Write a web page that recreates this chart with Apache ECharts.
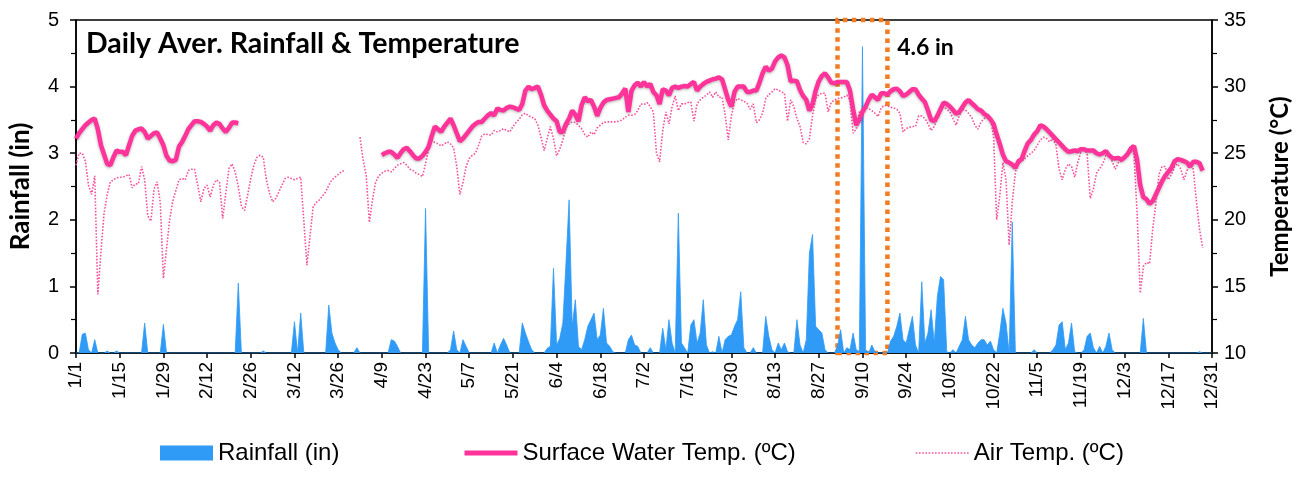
<!DOCTYPE html>
<html>
<head>
<meta charset="utf-8">
<script src="https://cdn.jsdelivr.net/npm/echarts@6/dist/echarts.min.js"></script>
<style>
  html, body { margin: 0; padding: 0; background: #fff; }
  #chart { width: 1300px; height: 487px; }
</style>
</head>
<body>
<div id="chart"></div>
<script>
// Day-of-year categories (non-leap year), labelled m/d
const monthDays = [31, 28, 31, 30, 31, 30, 31, 31, 30, 31, 30, 31];
const dates = [];
monthDays.forEach((n, m) => { for (let d = 1; d <= n; d++) dates.push((m + 1) + '/' + d); });

// Daily average rainfall (in)
const rainfall = [
  0,0,0.28,0.3,0.05,0,0.2,0,0,0,
  0.03,0,0,0.03,0,0,0,0,0,0,
  0,0,0.45,0,0,0,0,0,0.43,0,
  0,0,0,0,0,0,0,0,0,0,
  0,0,0,0,0,0,0,0,0,0,
  0,0,1.05,0,0,0,0,0,0,0,
  0.03,0,0,0,0,0,0,0,0,0,
  0.47,0,0.6,0,0,0,0,0,0,0,
  0,0.72,0.3,0.15,0.05,0,0,0,0,0,
  0.08,0,0,0,0,0,0,0,0,0,
  0,0.2,0.18,0.1,0,0,0,0,0,0,
  0,0,2.17,0,0,0,0,0,0,0,
  0.05,0.33,0.05,0,0.2,0.1,0,0,0,0,
  0,0,0,0,0.15,0,0.12,0.22,0.12,0,
  0,0,0,0.45,0.3,0.17,0.05,0,0,0,
  0,0.07,0.1,1.27,0.12,0.22,0.45,1.35,2.3,0.4,
  0.8,0.1,0.05,0.2,0.4,0.5,0.6,0.2,0.27,0.67,
  0.15,0.1,0.02,0,0,0,0,0.2,0.27,0.12,
  0.1,0,0,0,0.08,0,0,0,0.37,0.05,
  0.5,0.15,0,2.1,0.15,0.08,0,0.42,0.5,0.15,
  0.3,0.8,0.12,0,0.02,0,0.25,0,0.2,0.25,
  0.27,0.4,0.5,0.92,0.08,0,0,0.08,0,0,
  0,0.55,0.25,0.05,0,0.15,0.05,0.15,0.02,0,
  0,0.5,0.12,0,0.2,1.5,1.78,0.4,0.35,0.3,
  0.05,0,0,0,0.1,0.35,0,0.08,0.05,0.3,
  0.05,0.02,4.6,0.05,0,0.12,0.02,0,0,0,
  0,0.18,0.25,0.4,0.6,0.2,0.15,0.35,0.55,0.12,
  0,1.07,0.15,0.3,0.65,0.15,0.85,1.15,1.1,0.02,
  0,0.05,0,0.1,0.2,0.55,0.2,0.12,0.08,0.15,
  0.2,0.2,0.12,0.18,0.05,0,0.3,0.67,0.45,0,
  1.97,0,0,0,0,0,0,0.05,0,0,
  0,0,0,0.05,0.12,0.42,0.47,0.05,0.15,0.45,
  0.02,0,0,0.05,0.25,0.3,0.08,0,0.1,0,
  0.1,0.3,0.05,0,0,0,0,0,0,0,
  0,0,0.52,0,0,0,0,0,0,0,
  0,0,0,0,0,0,0,0,0,0,
  0.02,0,0,0,0
];

// Daily average surface water temperature (°C); null = no record
const waterTemp = [
  26.1,26.5,26.8,27.1,27.3,27.5,27.6,26.8,25.6,24.9,
  24.2,24.1,24.7,25.2,25.1,25.1,24.85,25.6,26.3,26.7,
  26.8,26.85,26.6,26.1,26.3,26.5,26.55,26.1,25.6,24.8,
  24.45,24.4,24.5,25.5,25.85,26.3,26.8,27.1,27.4,27.4,
  27.35,27.2,27.0,26.7,27.1,27.3,27.2,26.85,26.6,26.9,
  27.3,27.3,27.25,null,null,null,null,null,null,null,
  null,null,null,null,null,null,null,null,null,null,
  null,null,null,null,null,null,null,null,null,null,
  null,null,null,null,null,null,null,null,null,null,
  null,null,null,null,null,null,null,null,24.85,25.0,
  25.1,25.1,24.9,24.65,25.0,25.3,25.4,25.15,24.85,24.6,
  24.6,24.8,25.1,25.5,26.3,27.0,26.8,26.6,27.0,27.3,
  27.6,27.1,26.5,25.9,26.1,26.4,26.7,27.0,27.2,27.35,
  27.35,27.6,27.85,28.0,27.85,28.35,28.25,28.2,28.4,28.5,
  28.45,28.35,28.25,28.7,29.7,30.0,29.8,29.9,30.0,29.4,
  28.6,28.2,27.9,27.6,27.4,26.6,26.6,27.2,27.6,28.2,
  27.9,27.4,28.6,29.2,28.9,29.0,28.5,27.8,28.4,28.8,
  29.0,29.05,29.1,29.15,29.2,29.5,29.85,28.1,29.7,30.1,
  30.3,30.0,30.35,30.0,30.2,29.6,29.35,28.7,29.8,29.7,
  29.35,29.9,30.0,29.9,30.0,30.05,30.0,30.2,30.35,29.7,
  30.0,30.2,30.35,30.45,30.55,30.6,30.7,30.55,29.8,29.0,
  28.5,29.6,30.0,30.0,30.0,29.6,29.6,29.7,29.7,30.3,
  31.0,31.5,31.2,31.35,31.9,32.2,32.35,32.2,31.6,30.4,
  30.45,30.4,29.75,29.3,29.0,28.2,28.7,29.7,30.4,30.8,
  31.0,30.7,30.3,30.25,30.35,30.35,30.35,30.35,29.7,28.3,
  27.1,27.5,28.1,28.5,29.0,29.4,29.2,29.0,29.5,29.5,
  29.4,29.65,29.8,29.85,29.65,29.3,29.4,29.6,29.8,29.8,
  29.4,29.1,28.85,28.2,27.5,27.4,27.8,28.3,28.8,28.7,
  28.5,28.25,27.95,28.1,28.45,28.8,29.0,28.75,28.55,28.3,
  28.2,27.95,27.8,27.55,27.2,26.4,25.7,24.9,24.4,24.3,
  24.15,23.9,24.4,24.55,25.2,25.75,26.0,26.4,26.65,27.1,
  27.0,26.8,26.55,26.3,26.05,25.8,25.55,25.3,25.1,25.15,
  25.2,25.15,25.3,25.3,25.2,25.2,25.2,25.0,24.9,25.0,
  25.15,24.85,24.65,24.6,24.65,24.5,24.7,24.95,25.35,25.55,
  24.5,22.6,21.7,21.55,21.2,21.4,21.9,22.4,22.9,23.3,
  23.6,23.9,24.4,24.55,24.5,24.4,24.3,24.0,24.35,24.35,
  24.25,23.7,null,null,null
];

// Daily average air temperature (°C); null = no record
const airTemp = [
  24.1,25.0,25.0,24.4,22.6,21.9,23.3,14.4,17.6,20.5,
  21.9,22.85,23.0,23.15,23.2,23.2,23.3,23.4,22.4,22.7,
  22.7,24.0,23.0,20.3,19.9,22.3,22.85,21.3,15.6,17.8,
  20.0,21.4,22.2,23.0,23.1,23.0,23.7,23.8,23.8,22.6,
  21.35,22.35,22.6,21.7,22.6,23.0,22.8,20.1,22.0,23.85,
  24.2,23.6,22.5,21.0,20.7,21.85,23.1,24.1,24.7,24.85,
  24.7,23.0,22.0,21.35,21.6,22.1,22.6,23.1,23.2,23.1,
  23.0,23.1,23.2,19.9,16.6,18.8,21.0,21.3,21.5,21.8,
  22.1,22.6,23.0,23.2,23.4,23.6,23.7,null,null,null,
  null,26.2,24.5,23.3,19.8,21.5,22.8,23.3,23.5,23.65,
  23.7,23.6,23.85,24.1,24.2,24.3,24.1,23.8,23.7,23.5,
  23.4,23.25,24.2,25.3,25.95,25.8,25.7,25.55,25.7,25.85,
  25.7,25.4,24.0,21.9,22.8,24.0,24.6,24.85,25.0,25.6,
  26.3,26.45,26.4,26.35,26.7,26.6,26.7,26.85,26.7,26.6,
  27.0,27.3,27.55,27.9,28.0,27.8,27.7,27.6,27.1,26.2,
  25.2,26.1,27.0,26.1,24.8,25.3,26.0,26.9,27.2,27.35,
  27.3,27.1,26.85,26.4,26.2,26.6,26.4,26.9,27.1,27.3,
  27.35,27.35,27.35,27.35,27.4,27.5,27.7,27.85,27.85,27.9,
  28.2,28.7,28.65,28.8,28.5,28.1,25.0,24.35,26.7,28.1,
  27.2,28.5,29.3,28.2,28.7,28.7,28.8,28.85,27.4,28.7,
  29.0,29.2,29.35,29.6,29.2,29.6,29.2,29.2,27.9,26.0,
  27.8,28.85,29.1,29.0,28.9,28.75,28.3,28.7,27.3,27.5,
  28.0,29.1,29.4,29.6,29.85,29.75,29.6,29.5,27.4,29.0,
  28.5,27.6,27.0,25.8,25.7,26.1,27.8,29.1,29.4,29.5,
  29.5,28.1,28.8,29.0,29.1,29.15,29.2,29.35,29.0,26.5,
  26.8,28.1,28.3,28.45,28.35,28.2,28.0,27.75,28.4,28.6,
  28.55,28.45,28.4,28.3,28.0,26.6,26.85,26.95,27.0,27.0,
  27.8,27.8,27.6,27.2,26.7,27.0,27.6,28.1,28.5,28.3,
  28.1,27.6,27.1,27.8,28.3,28.25,28.0,27.7,27.1,26.8,
  27.35,27.6,27.7,27.6,26.3,20.0,21.8,24.3,23.0,18.1,
  21.3,23.6,24.2,24.4,24.6,24.8,25.0,25.2,25.6,26.0,
  26.2,26.1,25.85,26.1,25.6,23.8,23.0,23.8,24.2,24.0,
  23.2,24.3,25.1,25.35,24.9,21.6,22.3,23.5,23.85,24.2,
  24.85,25.0,24.4,23.8,24.3,24.4,24.6,24.85,25.2,24.9,
  20.5,14.5,16.5,16.8,16.7,19.3,21.2,23.4,24.0,24.0,
  23.0,23.4,24.0,24.2,23.8,23.0,23.7,24.2,23.8,21.4,
  19.3,17.9,null,null,null
];

// Storm highlight window and its peak day
const stormStart = '9/2';
const stormEnd = '9/18';
const stormPeak = '9/10';

const chart = echarts.init(document.getElementById('chart'));

const axisBlack = { lineStyle: { color: '#000', width: 1.5 } };
const tickFont = { color: '#000', fontFamily: 'Liberation Sans, Arial, sans-serif' };
const nameFont = { fontFamily: 'Lato, sans-serif', fontWeight: 'bold', color: '#000' };
const legendFont = { color: '#000', fontSize: 24, fontFamily: 'Liberation Sans, Arial, sans-serif' };
// line legends: show only the stroke, hide the marker
const hiddenMarker = { opacity: 0 };

chart.setOption({
  animation: false,
  backgroundColor: '#fff',
  title: {
    text: 'Daily Aver. Rainfall & Temperature',
    left: 81, top: 24,
    textStyle: { fontFamily: 'Lato, sans-serif', fontWeight: 'bold', fontSize: 28.5, color: '#000' }
  },
  grid: { left: 75, right: 88, top: 20, bottom: 134, show: true, borderColor: '#000', borderWidth: 1.5 },
  legend: [
    { data: ['Rainfall (in)'], left: 160, top: 441, padding: 0, icon: 'rect', itemWidth: 53, itemHeight: 15, textStyle: legendFont },
    { data: ['Surface Water Temp. (ºC)'], left: 462, top: 441, padding: 0, itemWidth: 53, itemHeight: 15,
      itemStyle: hiddenMarker, lineStyle: { width: 5 }, textStyle: legendFont },
    { data: ['Air Temp. (ºC)'], left: 915, top: 441, padding: 0, itemWidth: 53, itemHeight: 15,
      itemStyle: hiddenMarker, lineStyle: { width: 1.6, type: [1.6, 1.6] }, textStyle: legendFont }
  ],
  xAxis: {
    type: 'category',
    data: dates,
    boundaryGap: false,
    axisLine: axisBlack,
    axisTick: { interval: 13, length: 5, lineStyle: { color: '#000', width: 1.5 } },
    axisLabel: Object.assign({ interval: 13, rotate: 90, fontSize: 19, margin: 9 }, tickFont),
    splitLine: { show: false }
  },
  yAxis: [
    {
      type: 'value', min: 0, max: 5, interval: 1, position: 'left',
      name: 'Rainfall (in)', nameLocation: 'middle', nameGap: 42,
      nameTextStyle: Object.assign({ fontSize: 26 }, nameFont),
      axisLine: Object.assign({ show: true }, axisBlack),
      axisTick: { show: true, length: 6, lineStyle: { color: '#000', width: 1.5 } },
      minorTick: { show: true, splitNumber: 2, length: 5, lineStyle: { color: '#000', width: 1.2 } },
      axisLabel: Object.assign({ fontSize: 20, margin: 17 }, tickFont),
      splitLine: { show: false }
    },
    {
      type: 'value', min: 10, max: 35, interval: 5, position: 'right',
      name: 'Temperature (°C)', nameLocation: 'middle', nameGap: 56, nameRotate: 90,
      nameTextStyle: Object.assign({ fontSize: 24 }, nameFont),
      axisLine: Object.assign({ show: true }, axisBlack),
      axisTick: { show: true, length: 6, lineStyle: { color: '#000', width: 1.5 } },
      minorTick: { show: true, splitNumber: 2, length: 5, lineStyle: { color: '#000', width: 1.2 } },
      axisLabel: Object.assign({ fontSize: 20, margin: 12 }, tickFont),
      splitLine: { show: false }
    }
  ],
  series: [
    {
      name: 'Rainfall (in)',
      type: 'line',
      yAxisIndex: 0,
      data: rainfall,
      symbol: 'none',
      color: '#2F9BF6',
      lineStyle: { width: 0.8, color: '#2F9BF6' },
      areaStyle: { color: '#2F9BF6', opacity: 1 },
      z: 2,
      markArea: {
        silent: true,
        itemStyle: { color: 'rgba(0,0,0,0)', borderColor: '#F47B20', borderWidth: 4.5, borderType: [4.5, 4.5] },
        label: {
          show: true,
          position: [62, 18],
          formatter: () => rainfall[dates.indexOf(stormPeak)] + ' in',
          fontFamily: 'Lato, sans-serif', fontWeight: 'bold', fontSize: 23, color: '#000'
        },
        data: [[{ xAxis: stormStart }, { xAxis: stormEnd }]]
      }
    },
    {
      name: 'Air Temp. (ºC)',
      type: 'line',
      yAxisIndex: 1,
      data: airTemp,
      symbol: 'none',
      color: '#F4529E',
      lineStyle: { width: 1.6, color: '#F4529E', type: [1.6, 1.6] },
      z: 3
    },
    {
      name: 'Surface Water Temp. (ºC)',
      type: 'line',
      yAxisIndex: 1,
      data: waterTemp,
      symbol: 'none',
      color: '#FF3399',
      lineStyle: { width: 4.5, color: '#FF3399', shadowColor: 'rgba(0,0,0,0.3)', shadowBlur: 3, shadowOffsetY: 1 },
      z: 4
    }
  ]
});
</script>
</body>
</html>
